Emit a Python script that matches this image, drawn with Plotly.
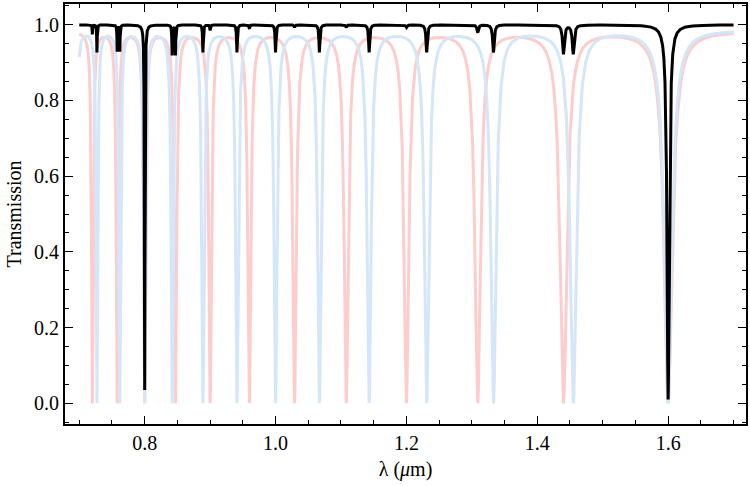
import numpy as np
import plotly.graph_objects as go

# ---- data ----
# resonance wavelengths (um) of the two ring spectra
pink_centers = [0.720, 0.758, 0.800, 0.847, 0.900, 0.960, 1.029, 1.108, 1.200, 1.309, 1.440, 1.600]
blue_centers = [0.6952, 0.727, 0.762, 0.800, 0.842, 0.889, 0.941, 1.000, 1.067, 1.143, 1.231, 1.333, 1.455, 1.600]
pink_max = 0.984
blue_max = 0.987
pink_rel_width = 0.0030   # HWHM / lambda^2
blue_rel_width = 0.0027

# combined (black) spectrum: dip wavelength and minimum transmission
black_centers = [0.6952, 0.720, 0.727, 0.758, 0.762, 0.800, 0.842, 0.847, 0.889, 0.900, 0.941, 0.960,
                 1.000, 1.029, 1.067, 1.108, 1.143, 1.200, 1.231, 1.309, 1.333, 1.440, 1.455, 1.600]
black_minima = [0.93, 0.975, 0.927, 0.93, 0.93, 0.035, 0.92, 0.92, 0.927, 0.985, 0.927, 0.99,
                0.927, 0.993, 0.927, 0.993, 0.927, 0.993, 0.927, 0.98, 0.927, 0.923, 0.923, 0.01]
black_rel_width = 0.0008

x_start, x_end = 0.70, 1.70

x_ticks = [0.8, 1.0, 1.2, 1.4, 1.6]
y_ticks = [0.0, 0.2, 0.4, 0.6, 0.8, 1.0]

# ---- build curves from the resonance lists ----
all_c = sorted(set(pink_centers + blue_centers + black_centers))
lam = np.union1d(np.arange(x_start, x_end + 1e-9, 0.00004), np.array(all_c))
lam = lam[(lam >= x_start) & (lam <= x_end)]


def ring(centers, tmax, rel):
    t = np.full_like(lam, tmax)
    for c in centers:
        g = rel * c * c
        d = lam - c
        t *= d * d / (d * d + g * g)
    return t


def combined(centers, minima, rel):
    t = np.ones_like(lam)
    for c, m in zip(centers, minima):
        g = rel * c * c
        d = lam - c
        t *= 1 - (1 - m) * g * g / (d * d + g * g)
    return t


pink = ring(pink_centers, pink_max, pink_rel_width)
blue = ring(blue_centers, blue_max, blue_rel_width)
black = combined(black_centers, black_minima, black_rel_width)

fig = go.Figure()
fig.add_trace(go.Scatter(x=lam, y=pink, mode="lines", line=dict(color="rgb(255,204,204)", width=3), showlegend=False))
fig.add_trace(go.Scatter(x=lam, y=blue, mode="lines", line=dict(color="rgb(212,230,250)", width=3), showlegend=False))
fig.add_trace(go.Scatter(x=lam, y=black, mode="lines", line=dict(color="black", width=3), showlegend=False))

font = dict(family="Liberation Serif", size=20, color="black")
axis_common = dict(
    showline=True, linecolor="black", linewidth=2, mirror="ticks",
    ticks="inside", ticklen=8, tickwidth=1, tickcolor="black",
    showgrid=False, zeroline=False, tickfont=font,
)
fig.update_xaxes(
    range=[0.6782, 1.719], tickvals=x_ticks, ticktext=[f"{v:.1f}" for v in x_ticks],
    minor=dict(dtick=0.05, tick0=0.0, ticks="inside", ticklen=4, tickcolor="black", showgrid=False),
    title=dict(text="λ (<i>μ</i>m)", font=font, standoff=9),
    **axis_common,
)
fig.update_yaxes(
    range=[-0.055, 1.055], tickvals=y_ticks, ticktext=[f"{v:.1f}" for v in y_ticks],
    minor=dict(dtick=0.05, tick0=0.0, ticks="inside", ticklen=4, tickcolor="black", showgrid=False),
    title=dict(text="Transmission", font=font, standoff=7),
    **axis_common,
)
fig.update_layout(
    width=750, height=486, margin=dict(l=65, r=2, t=3, b=62),
    paper_bgcolor="white", plot_bgcolor="white", font=font,
)
fig.write_html("out.html")
